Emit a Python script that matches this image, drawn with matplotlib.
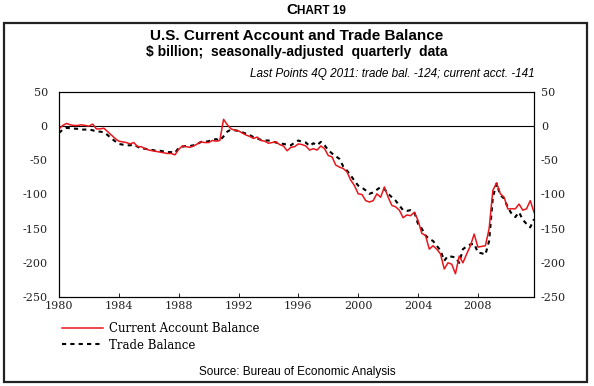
import numpy as np
import matplotlib.pyplot as plt
from matplotlib.patches import Rectangle
from matplotlib.lines import Line2D

plt.rcParams['axes.unicode_minus'] = False

# quarterly data, 1980Q1 .. 2011Q4, $ billion
current_acct = [
    -4, 1, 4, 2,   1, 1, 2, 1,   0, 3, -4, -4,   -3, -8, -13, -18,
    -22, -23, -24, -26,   -24, -30, -30, -33,   -35, -36, -37, -38,   -39, -40, -40, -42,
    -34, -29, -30, -31,   -29, -26, -23, -24,   -24, -21, -22, -21,   10, 2, -4, -6,
    -7, -10, -13, -15,   -18, -16, -21, -22,   -25, -24, -23, -27,   -29, -36, -31, -30,
    -26, -27, -29, -35,   -33, -35, -29, -33,   -43, -45, -57, -60,   -62, -67, -79, -87,
    -99, -100, -109, -111,   -109, -99, -104, -89,   -104, -116, -118, -123,   -134, -130, -131, -126,
    -138, -157, -160, -180,   -175, -180, -187, -209,   -200, -202, -216, -190,   -200, -187, -175, -158,
    -177, -176, -175, -150,   -94, -83, -99, -104,   -121, -121, -121, -114,   -123, -121, -109, -126,
]
trade_bal = [
    -10, -5, -2.5, -3,   -3.5, -4, -5, -5,   -5, -6, -8, -8,   -9, -13, -18, -22,
    -26, -27, -28, -28,   -27, -30, -33, -33,   -34, -35, -36, -36,   -37, -38, -38, -39,
    -32, -30, -29, -29,   -28, -26, -23, -23,   -22, -20, -19, -21,   -15, -8, -5, -6,
    -7, -9, -11, -13,   -16, -18, -20, -21,   -21, -22, -24, -25,   -26, -27, -28, -24,
    -21, -23, -24, -29,   -25, -28, -23, -28,   -35, -40, -44, -48,   -59, -65, -72, -80,
    -87, -90, -94, -99,   -97, -93, -89, -92,   -99, -104, -109, -116,   -123, -124, -123, -126,
    -143, -150, -160, -165,   -168, -175, -182, -197,   -190, -191, -192, -200,   -180, -176, -173, -172,
    -185, -186, -188, -168,   -104, -84, -101, -106,   -119, -128, -133, -126,   -137, -143, -148, -136,
]
years = 1980 + np.arange(len(current_acct)) / 4.0
xticks = [1980, 1984, 1988, 1992, 1996, 2000, 2004, 2008]
yticks = [50, 0, -50, -100, -150, -200, -250]

serif = 'DejaVu Serif'
sans = 'Liberation Sans'

fig = plt.figure(figsize=(5.94, 3.86), dpi=100)

# outer frame
fig.patches.append(Rectangle((0.007, 0.011), 0.982, 0.93, transform=fig.transFigure,
                             fill=False, edgecolor='#222222', linewidth=1.6))

fig.text(0.5, 0.973, 'C', ha='right', va='center', fontsize=11, fontweight='bold', family=sans)
fig.text(0.5, 0.971, 'HART 19', ha='left', va='center', fontsize=8.5, fontweight='bold',
         family=sans)
fig.text(0.5, 0.908, 'U.S. Current Account and Trade Balance', ha='center', va='center',
         fontsize=11, fontweight='bold', family=sans)
fig.text(0.5, 0.864, '\\$ billion;  seasonally-adjusted  quarterly  data', ha='center',
         va='center', fontsize=10, fontweight='bold', family=sans)
fig.text(0.9, 0.808, 'Last Points 4Q 2011: trade bal. -124; current acct. -141',
         ha='right', va='center', fontsize=8.5, style='italic', family=sans)

ax = fig.add_axes([0.0993, 0.2306, 0.7997, 0.5311])
ax.plot(years, current_acct, color='#e8151b', linewidth=1.1, zorder=3)
ax.plot(years, trade_bal, color='black', linewidth=1.5, linestyle=(0, (2, 2)), zorder=2)
ax.axhline(0, color='black', linewidth=0.8)

ax.set_xlim(1980, 2011.75)
ax.set_ylim(-250, 50)
ax.set_xticks(xticks)
ax.set_yticks(yticks)
ax.set_xticklabels([str(x) for x in xticks])
ax.set_yticklabels([str(y) for y in yticks])
ax.tick_params(axis='x', direction='in', length=3, width=0.6, pad=3, labelsize=8,
               labelcolor='#222222')
ax.tick_params(axis='y', length=0, pad=8, labelsize=8, labelcolor='#222222')

# right-hand labels
ax2 = ax.twinx()
ax2.set_ylim(-250, 50)
ax2.set_yticks(yticks)
ax2.set_yticklabels([str(y) for y in yticks])
ax2.tick_params(axis='y', length=0, pad=5, labelsize=8, labelcolor='#222222')

for lab in ax.get_xticklabels() + ax.get_yticklabels() + ax2.get_yticklabels():
    lab.set_family(serif)
for a in (ax, ax2):
    for s in a.spines.values():
        s.set_linewidth(0.8)

handles = [Line2D([], [], color='#e8151b', linewidth=1.1),
           Line2D([], [], color='black', linewidth=1.5, linestyle=(0, (2, 2)))]
fig.legend(handles, ['Current Account Balance', 'Trade Balance'],
           loc='upper left', bbox_to_anchor=(0.0965, 0.178), frameon=False,
           prop={'family': serif, 'size': 8.5},
           handlelength=3.5, handletextpad=0.5, labelspacing=0.3, borderaxespad=0)

fig.text(0.5, 0.036, 'Source: Bureau of Economic Analysis', ha='center', va='center',
         fontsize=8.5, family=sans)

fig.savefig('out.png', dpi=100)
